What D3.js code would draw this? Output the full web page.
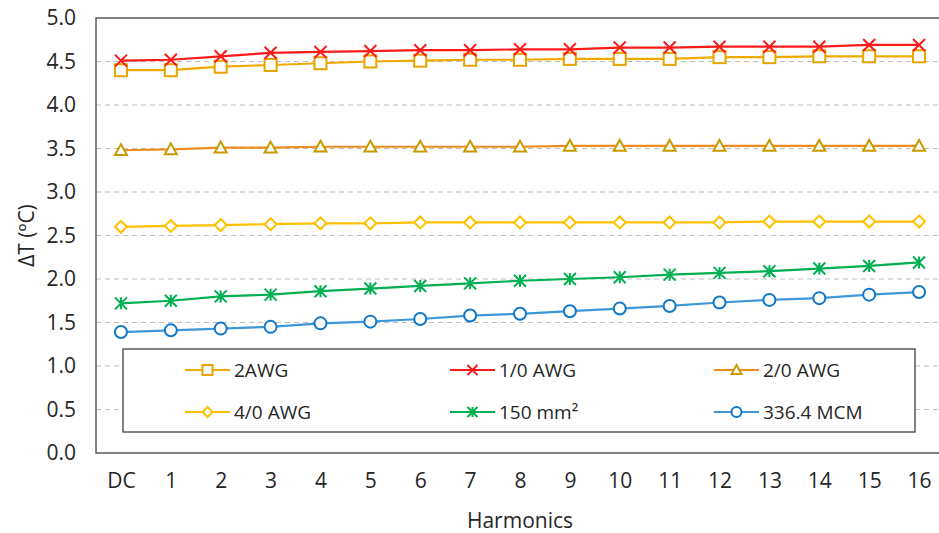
<!DOCTYPE html>
<html>
<head>
<meta charset="utf-8">
<script src="https://cdn.jsdelivr.net/npm/d3@7"></script>
<style>
  body { margin: 0; background: #fff; }
  text { font-family: "Open Sans", sans-serif; fill: #262626; }
</style>
</head>
<body>
<div id="chart"></div>
<script>
// categories and series
const harmonics = ["DC", "1", "2", "3", "4", "5", "6", "7", "8", "9", "10", "11", "12", "13", "14", "15", "16"];
const yTicks = [0, 0.5, 1, 1.5, 2, 2.5, 3, 3.5, 4, 4.5, 5];

const awg2   = [4.40, 4.40, 4.44, 4.46, 4.48, 4.50, 4.51, 4.52, 4.52, 4.53, 4.53, 4.53, 4.55, 4.55, 4.56, 4.56, 4.56];
const awg10  = [4.51, 4.52, 4.56, 4.60, 4.61, 4.62, 4.63, 4.63, 4.64, 4.64, 4.66, 4.66, 4.67, 4.67, 4.67, 4.69, 4.69];
const awg20  = [3.48, 3.49, 3.51, 3.51, 3.52, 3.52, 3.52, 3.52, 3.52, 3.53, 3.53, 3.53, 3.53, 3.53, 3.53, 3.53, 3.53];
const awg40  = [2.60, 2.61, 2.62, 2.63, 2.64, 2.64, 2.65, 2.65, 2.65, 2.65, 2.65, 2.65, 2.65, 2.66, 2.66, 2.66, 2.66];
const mm150  = [1.72, 1.75, 1.80, 1.82, 1.86, 1.89, 1.92, 1.95, 1.98, 2.00, 2.02, 2.05, 2.07, 2.09, 2.12, 2.15, 2.19];
const mcm336 = [1.39, 1.41, 1.43, 1.45, 1.49, 1.51, 1.54, 1.58, 1.60, 1.63, 1.66, 1.69, 1.73, 1.76, 1.78, 1.82, 1.85];

const series = [
  {name: "2AWG", values: awg2, line: "#F0A900", mark: "#E5A400", symbol: "square"},
  {name: "1/0 AWG", values: awg10, line: "#FF1A1A", mark: "#FF1A1A", symbol: "x"},
  {name: "2/0 AWG", values: awg20, line: "#EC8D1E", mark: "#C89A00", symbol: "triangle"},
  {name: "4/0 AWG", values: awg40, line: "#FFC000", mark: "#FFC000", symbol: "diamond"},
  {name: "150 mm²", values: mm150, line: "#00B050", mark: "#00B050", symbol: "asterisk"},
  {name: "336.4 MCM", values: mcm336, line: "#3D97D8", mark: "#1177C8", symbol: "circle"}
];

const W = 939, H = 533;
const margin = {top: 18, left: 96, bottom: 80};
const plotW = 848, plotH = H - margin.top - margin.bottom;

const svg = d3.select("#chart").append("svg")
  .attr("width", W).attr("height", H);

const g = svg.append("g").attr("transform", "translate(" + margin.left + "," + margin.top + ")");

const x = d3.scalePoint().domain(harmonics).range([0, plotW]).padding(0.5);
const y = d3.scaleLinear().domain([0, 5]).range([plotH, 0]);

// dashed gridlines
g.append("g").selectAll("line")
  .data(yTicks.filter(d => d > 0 && d < 5))
  .join("line")
  .attr("x1", 0).attr("x2", plotW)
  .attr("y1", d => y(d)).attr("y2", d => y(d))
  .attr("stroke", "#BDBDBD").attr("stroke-width", 1.2)
  .attr("stroke-dasharray", "5,4");

// frame
g.append("rect").attr("x", 0).attr("y", 0).attr("width", plotW).attr("height", plotH)
  .attr("fill", "none").attr("stroke", "#595959").attr("stroke-width", 1.5);

// axes
const yAxis = g.append("g").call(d3.axisLeft(y).tickValues(yTicks).tickFormat(d3.format(".1f")).tickSize(0).tickPadding(20));
yAxis.select(".domain").remove();
yAxis.selectAll("text").style("font-size", "21px").attr("fill", "#262626");

const xAxis = g.append("g").attr("transform", "translate(0," + plotH + ")")
  .call(d3.axisBottom(x).tickSize(0).tickPadding(20));
xAxis.select(".domain").remove();
xAxis.selectAll("text").style("font-size", "21px").attr("fill", "#262626");

svg.append("text").attr("x", margin.left + 424).attr("y", 528)
  .attr("text-anchor", "middle").style("font-size", "21px").text("Harmonics");
svg.append("text").attr("transform", "translate(34," + (margin.top + plotH / 2) + ") rotate(-90)")
  .attr("text-anchor", "middle").style("font-size", "21px").text("ΔT (ºC)");

function drawMarker(sel, s, size) {
  const h = size / 2;
  sel.attr("fill", "none").attr("stroke", s.mark).attr("stroke-width", 2);
  if (s.symbol === "square") {
    sel.append("rect").attr("x", -h).attr("y", -h).attr("width", size).attr("height", size).attr("fill", "#fff");
  } else if (s.symbol === "x") {
    sel.append("path").attr("d", `M${-h},${-h}L${h},${h}M${-h},${h}L${h},${-h}`);
  } else if (s.symbol === "triangle") {
    sel.append("path").attr("d", `M0,${-h}L${h},${h * 0.8}L${-h},${h * 0.8}Z`).attr("fill", "#fff");
  } else if (s.symbol === "diamond") {
    sel.append("path").attr("d", `M0,${-h}L${h},0L0,${h}L${-h},0Z`).attr("fill", "#fff");
  } else if (s.symbol === "asterisk") {
    sel.append("path").attr("d", `M${-h},${-h}L${h},${h}M${-h},${h}L${h},${-h}M0,${-h}L0,${h}`);
  } else {
    sel.append("circle").attr("r", h).attr("fill", "#fff");
  }
}

const line = d3.line().x((d, i) => x(harmonics[i])).y(d => y(d));

series.forEach(s => {
  g.append("path").datum(s.values)
    .attr("d", line).attr("fill", "none")
    .attr("stroke", s.line).attr("stroke-width", 2.2);
  s.values.forEach((v, i) => {
    const m = g.append("g").attr("transform", "translate(" + x(harmonics[i]) + "," + y(v) + ")");
    drawMarker(m, s, 12);
  });
});

// legend
const leg = svg.append("g");
leg.append("rect").attr("x", 123).attr("y", 349).attr("width", 792).attr("height", 83)
  .attr("fill", "#fff").attr("stroke", "#404040").attr("stroke-width", 1.3);

const colX = [185, 450, 714];
const rowY = [370, 412];
series.forEach((s, i) => {
  const cx = colX[i % 3], cy = rowY[Math.floor(i / 3)];
  leg.append("line").attr("x1", cx).attr("x2", cx + 45).attr("y1", cy).attr("y2", cy)
    .attr("stroke", s.line).attr("stroke-width", 2.2);
  const m = leg.append("g").attr("transform", "translate(" + (cx + 22.5) + "," + cy + ")");
  drawMarker(m, s, 10);
  leg.append("text").attr("x", cx + 49).attr("y", cy).attr("dy", "0.35em")
    .style("font-size", "19px").text(s.name);
});
</script>
</body>
</html>
